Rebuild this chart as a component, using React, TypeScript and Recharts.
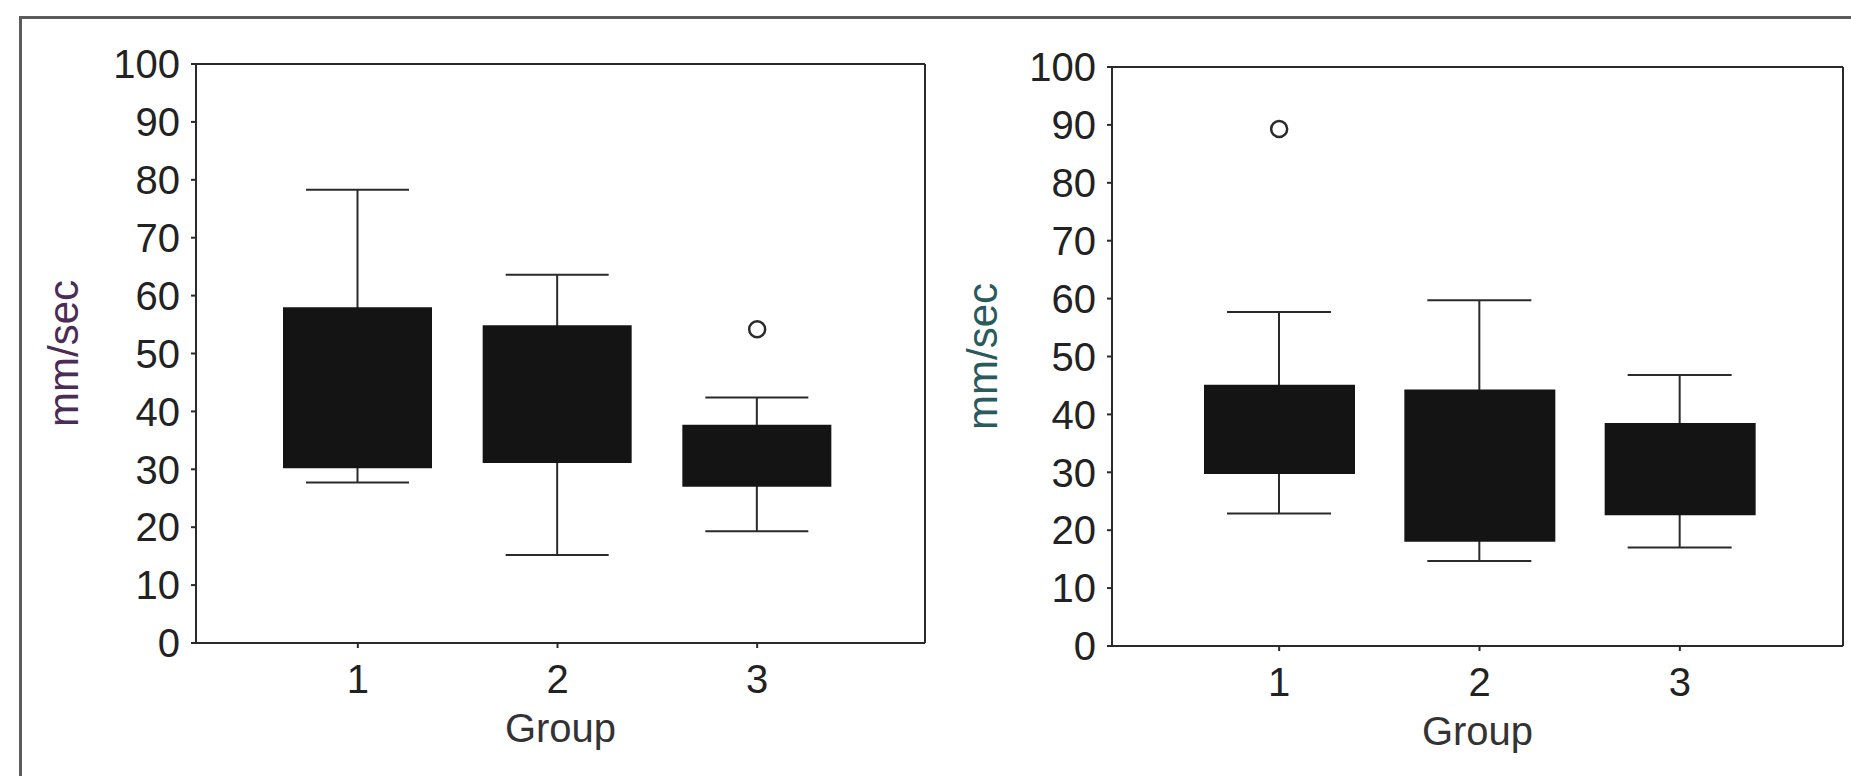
import { ComposedChart, Bar, Scatter, XAxis, YAxis } from "recharts";

const groups = ["1", "2", "3"];
const yTicks = [0, 10, 20, 30, 40, 50, 60, 70, 80, 90, 100];

// left panel
const leftMin = [27.7, 15.2, 19.3];
const leftQ1 = [30.2, 31.1, 27.0];
const leftQ3 = [58.0, 54.9, 37.7];
const leftMax = [78.3, 63.6, 42.4];
const leftOutlier = [null, null, 54.2];

// right panel
const rightMin = [22.9, 14.7, 17.0];
const rightQ1 = [29.7, 18.0, 22.6];
const rightQ3 = [45.1, 44.3, 38.5];
const rightMax = [57.7, 59.7, 46.8];
const rightOutlier = [89.3, null, null];

function buildRows(
  min: number[],
  q1: number[],
  q3: number[],
  max: number[],
  outlier: (number | null)[]
) {
  return groups.map((g, i) => ({
    group: g,
    whisker: [min[i], max[i]],
    box: [q1[i], q3[i]],
    outlier: outlier[i],
  }));
}

const FONT = "'Liberation Sans', Arial, Helvetica, sans-serif";
const INK = "#2a2a2a";

const Whisker = (props: any) => {
  const { x, y, width, height } = props;
  const top = Math.min(y, y + height);
  const bottom = Math.max(y, y + height);
  const cx = x + width / 2;
  return (
    <g stroke={INK} strokeWidth={2}>
      <line x1={cx} x2={cx} y1={top} y2={bottom} />
      <line x1={x} x2={x + width} y1={top} y2={top} />
      <line x1={x} x2={x + width} y1={bottom} y2={bottom} />
    </g>
  );
};

const Outlier = (props: any) => {
  if (props.payload == null || props.payload.outlier == null) return <g />;
  return <circle cx={props.cx} cy={props.cy} r={8} fill="none" stroke={INK} strokeWidth={2.5} />;
};

interface PanelProps {
  rows: ReturnType<typeof buildRows>;
  width: number;
  margin: { top: number; right: number; bottom: number; left: number };
  yWidth: number;
  pad: { left: number; right: number };
  boxSize: number;
  capSize: number;
  labelColor: string;
  labelDx: number;
}

const Panel = ({ rows, width, margin, yWidth, pad, boxSize, capSize, labelColor, labelDx }: PanelProps) => {
  const tick = { fontSize: 40, fontFamily: FONT, fill: "#222" };
  const line = { stroke: INK, strokeWidth: 2 };
  return (
    <ComposedChart width={width} height={776} data={rows} margin={margin}>
      <XAxis
        xAxisId="box"
        dataKey="group"
        height={100}
        padding={pad}
        tick={tick}
        tickSize={5}
        tickMargin={17}
        axisLine={line}
        tickLine={line}
        label={{ value: "Group", position: "insideBottom", offset: 1, fontSize: 40, fontFamily: FONT, fill: "#333" }}
      />
      <XAxis xAxisId="w" dataKey="group" hide padding={pad} />
      {/* top and right edges of the plot frame */}
      <XAxis xAxisId="top" dataKey="group" orientation="top" height={1} tick={false} tickLine={false} axisLine={line} />
      <YAxis
        width={yWidth}
        domain={[0, 100]}
        ticks={yTicks}
        interval={0}
        tick={tick}
        tickSize={5}
        tickMargin={11}
        axisLine={line}
        tickLine={line}
        label={{ value: "mm/sec", angle: -90, position: "center", dx: labelDx, fontSize: 42, fontFamily: FONT, fill: labelColor }}
      />
      <YAxis yAxisId="r" orientation="right" width={1} domain={[0, 100]} tick={false} tickLine={false} axisLine={line} />
      <Bar xAxisId="w" dataKey="whisker" barSize={capSize} shape={<Whisker />} isAnimationActive={false} />
      <Bar xAxisId="box" dataKey="box" barSize={boxSize} fill="#141414" isAnimationActive={false} />
      <Scatter xAxisId="box" dataKey="outlier" shape={<Outlier />} isAnimationActive={false} />
    </ComposedChart>
  );
};

export default function App() {
  const leftRows = buildRows(leftMin, leftQ1, leftQ3, leftMax, leftOutlier);
  const rightRows = buildRows(rightMin, rightQ1, rightQ3, rightMax, rightOutlier);
  return (
    <div
      style={{
        position: "absolute",
        left: 0,
        top: 0,
        width: 1851,
        height: 776,
        background: "#fff",
        overflow: "hidden",
      }}
    >
      <div
        style={{
          position: "absolute",
          left: 19,
          top: 16,
          width: 1900,
          height: 900,
          borderTop: "3px solid #5c5c5c",
          borderLeft: "3px solid #5c5c5c",
        }}
      />
      <div style={{ position: "absolute", left: 0, top: 0 }}>
        <Panel
          rows={leftRows}
          width={960}
          margin={{ top: 63, right: 34, bottom: 33, left: 0 }}
          yWidth={196}
          pad={{ left: 62, right: 68 }}
          boxSize={149}
          capSize={103}
          labelColor="#4a2c55"
          labelDx={-35}
        />
      </div>
      <div style={{ position: "absolute", left: 960, top: 0 }}>
        <Panel
          rows={rightRows}
          width={891}
          margin={{ top: 66, right: 7, bottom: 30, left: 0 }}
          yWidth={152}
          pad={{ left: 67, right: 63 }}
          boxSize={151}
          capSize={104}
          labelColor="#2b5a5c"
          labelDx={-54}
        />
      </div>
    </div>
  );
}
